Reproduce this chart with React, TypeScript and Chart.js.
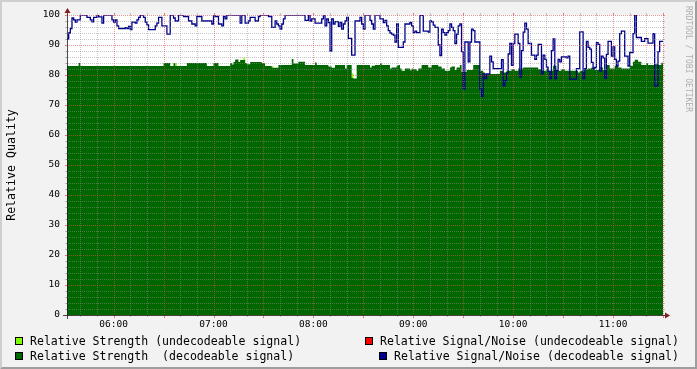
import React, { useEffect, useRef } from 'react';
import { Chart, registerables } from 'chart.js';

Chart.register(...registerables);

const W = 697;
const H = 369;
const FONT = '"DejaVu Sans Mono", monospace';

// time axis in minutes relative to 06:00
const X_START = -28;
const X_END = 330;
const HOUR_LABELS = ['06:00', '07:00', '08:00', '09:00', '10:00', '11:00'];
const Y_LABELS = ['0', '10', '20', '30', '40', '50', '60', '70', '80', '90', '100'];

// Relative Signal/Noise (decodeable) — value holds from each time onward
const SN_TIMES = [
  -28, -27, -26, -25, -24, -23, -22, -20, -16, -14, -13, -12, -10, -9, -7, -6, -1, 0, 1, 2, 3, 7, 8, 9, 10,
  11, 13, 14, 15, 16, 18, 19, 20, 21, 25, 26, 27, 29, 32, 34, 36, 37, 39, 42, 45, 47, 49, 50, 53, 59, 60,
  61, 63, 65, 66, 67, 68, 76, 77, 79, 81, 82, 85, 87, 88, 93, 95, 97, 98, 99, 100, 101, 102, 103, 115, 117,
  118, 119, 121, 125, 126, 127, 128, 129, 130, 131, 132, 133, 135, 136, 137, 138, 139, 140, 141, 143, 145,
  148, 149, 150, 151, 154, 155, 156, 157, 160, 162, 163, 164, 165, 166, 167, 168, 169, 170, 171, 174, 175,
  178, 179, 180, 181, 182, 184, 186, 189, 190, 191, 192, 193, 195, 196, 197, 198, 199, 200, 201, 202, 203,
  204, 205, 206, 207, 208, 209, 210, 211, 213, 214, 215, 216, 217, 220, 221, 222, 223, 224, 226, 227, 228,
  233, 234, 235, 236, 237, 238, 239, 240, 241, 243, 244, 245, 246, 247, 248, 249, 251, 253, 254, 255, 257,
  258, 259, 260, 261, 262, 263, 264, 265, 266, 267, 268, 269, 272, 273, 274, 278, 280, 282, 283, 284, 285,
  286, 287, 288, 289, 290, 291, 292, 293, 294, 295, 296, 297, 299, 300, 301, 302, 303, 304, 305, 307, 309,
  310, 312, 313, 314, 317, 319, 321, 324, 325, 327, 328, 330,
];
const SN_VALUES = [
  92, 94, 95.5, 99, 98.4, 97.6, 98.4, 100, 99.2, 98.4, 97.7, 99.2, 100, 99.4, 97.3, 100, 98.4, 97.6, 98.4, 96.4, 95.5, 95.8, 95.5, 96.2, 95.1,
  97.6, 97.3, 98.4, 99.2, 100, 99.2, 97.6, 96.7, 95.1, 96.4, 97.3, 99.2, 96.4, 93.6, 100, 99, 98, 100, 99.5, 98, 97, 96.4, 99.5, 98, 97, 100,
  99.5, 97, 96.4, 99.5, 98.7, 100, 97.3, 100, 97.3, 98, 99.2, 98, 99.5, 100, 99.5, 95.9, 98, 97, 96.4, 95.3, 97, 98.7, 100, 98.2, 100,
  98, 98.7, 97.3, 98.7, 100, 96.4, 98.7, 97.5, 88, 98.7, 97, 97.8, 96.2, 97.5, 95.3, 97, 98, 99.2, 92.2, 86.6, 98,
  99.2, 97, 95.3, 100, 98.2, 97, 95.3, 100, 98.7, 97.5, 98.2, 96.4, 94.8, 94, 93.6, 93.3, 91, 97, 89.2, 91, 97,
  97.5, 96.4, 94.1, 94.6, 94.1, 99.9, 94.6, 94.3, 98, 97.7, 96.6, 95.9, 90, 86.5, 95.3, 94.1, 93.3, 94.1, 94.8, 97, 95.9,
  94.8, 90.5, 93.6, 96.4, 97, 87.8, 75.3, 91, 84.4, 91, 95.3, 94.8, 91, 75.3, 72.9, 80.4, 78.8, 80.4, 86.3, 84.4, 82.1,
  85.1, 76.4, 78.1, 80.7, 87, 90.5, 83.2, 90.5, 93.6, 90.5, 79.3, 88.1, 94.3, 97.3, 95.3, 90.5, 86.6, 85.2, 86.6, 90.2, 80.4,
  86.6, 85.2, 82.6, 81.2, 78.8, 88.1, 92, 78.8, 81.5, 85.2, 84.4, 86, 85.7, 86.3, 78.6, 82.1, 94.4, 78.8, 82.1, 91.2, 89.2,
  88.6, 84.2, 82.1, 82.5, 90.8, 90.2, 81.3, 86.3, 85.7, 78.9, 86.9, 91.2, 86.3, 89.4, 85.2, 83, 84.6, 93.8, 94.6, 86.3, 83,
  87.5, 93.8, 100, 92.5, 91.2, 92.1, 90.6, 93.8, 76.4, 87.8, 91.2, 91.2,
];

// Relative Strength (decodeable)
const STRENGTH_TIMES = [
  -28, -21, -20, 30, 34, 36, 37, 44, 56, 60, 63, 70, 71, 72, 73, 75, 76, 79, 80, 82, 89, 91, 95, 99, 107,
  108, 111, 115, 121, 122, 129, 131, 133, 139, 140, 143, 144, 146, 154, 155, 157, 160, 161, 166, 167, 170,
  171, 172, 173, 175, 178, 179, 180, 182, 183, 185, 189, 191, 195, 197, 199, 202, 203, 205, 206, 208, 209,
  212, 216, 220, 222, 223, 232, 234, 236, 239, 241, 243, 246, 255, 257, 260, 261, 264, 266, 269, 271, 279,
  280, 282, 283, 285, 287, 289, 292, 294, 296, 298, 301, 303, 305, 310, 312, 313, 315, 317, 320, 321, 325,
  327, 329, 330,
];
const STRENGTH_VALUES = [
  83, 84, 83, 84, 83, 84, 83, 84, 83, 84, 83, 84, 83.5, 84.3, 85.2, 84.3, 85, 84, 83.6, 84.3, 84, 83, 82.4, 83.3, 85.3,
  83.8, 84.4, 83.3, 84.2, 83.3, 82.8, 82.4, 83.3, 82.2, 83.3, 79, 78.8, 83.3, 82.5, 83.1, 83.3, 83.9, 83.3, 82.2, 82.5, 83.1,
  83.3, 82.2, 81.4, 82.2, 81.6, 82.2, 81.9, 81.4, 82.2, 83.3, 82.5, 83.3, 82.8, 82.2, 81.4, 82.5, 82.8, 81.7, 82.5, 83.3, 81,
  81.7, 83.3, 81.4, 80.8, 80.3, 81.4, 80.8, 81.4, 81.9, 81.4, 82.2, 82.5, 81.9, 81.4, 82.2, 81.4, 83.1, 81.4, 81.9, 81.4, 80.8,
  81.4, 81, 81.9, 82.2, 82.5, 81.7, 82.5, 81.7, 83.3, 82.2, 83.1, 82.5, 82.2, 83.1, 84.4, 85.1, 84.4, 83.3, 83.9, 83.3, 83.6,
  83.3, 84.1, 84.1,
];

// Relative Strength (undecodeable) — top of the lime parts
const UNDEC_TIMES = [-28, 37, 38, 78, 79, 95, 96, 143, 144, 330];
const UNDEC_VALUES = [0, 84, 0, 85.8, 0, 82.9, 0, 80.6, 0, 0];

const LEGEND_LABELS = [
  'Relative Strength (undecodeable signal)',
  'Relative Strength  (decodeable signal)',
  'Relative Signal/Noise (undecodeable signal)',
  'Relative Signal/Noise (decodeable signal)',
];
const LEGEND_COLORS = ['#80FF00', '#006600', '#FF0000', '#00008B'];
const WATERMARK = 'RRDTOOL / TOBI OETIKER';
const Y_TITLE = 'Relative Quality';

const toPoints = (ts: number[], vs: number[]) => ts.map((t, i) => ({ x: t, y: vs[i] }));

const rrdPlugin = {
  id: 'rrdLook',
  beforeDraw(chart: any) {
    const { ctx, chartArea: a } = chart;
    ctx.save();
    ctx.fillStyle = '#F2F2F2';
    ctx.fillRect(0, 0, W, H);
    ctx.fillStyle = '#FFFFFF';
    ctx.fillRect(a.left, a.top, a.right - a.left, a.bottom - a.top);
    ctx.restore();
  },
  afterDatasetsDraw(chart: any) {
    const { ctx, chartArea: a, scales } = chart;
    const xs = scales.x;
    const ys = scales.y;
    const X0 = Math.round(a.left);
    const X1 = Math.round(a.right);
    const Y0 = Math.round(a.bottom);
    const Y1 = Math.round(a.top);
    const minorC = 'rgba(143,143,143,0.5)';
    const majorC = 'rgba(222,79,79,0.6)';
    ctx.save();
    ctx.lineWidth = 1;
    const line = (x1: number, y1: number, x2: number, y2: number, c: string, dash: number[]) => {
      ctx.setLineDash(dash);
      ctx.strokeStyle = c;
      ctx.beginPath();
      ctx.moveTo(x1, y1);
      ctx.lineTo(x2, y2);
      ctx.stroke();
    };
    for (const pass of [false, true]) {
      for (const t of ys.ticks) {
        const v = Math.round(t.value);
        const isMajor = v % 10 === 0;
        if (isMajor !== pass) continue;
        const y = Math.round(ys.getPixelForValue(v)) + 0.5;
        const c = isMajor ? majorC : minorC;
        line(X0 - 2, y, X0, y, c, []);
        line(X1, y, X1 + 2, y, c, []);
        if (isMajor) line(X0 - 2, y, X1 + 2, y, c, [1, 1]);
        else line(X0 - 1, y, X1 + 1, y, c, [1, 1]);
      }
      for (const t of xs.ticks) {
        const v = Math.round(t.value);
        if (v < X_START || v > X_END) continue;
        const isMajor = v % 30 === 0;
        if (isMajor !== pass) continue;
        const x = Math.round(xs.getPixelForValue(v)) + 0.5;
        const c = isMajor ? majorC : minorC;
        line(x, Y1 - 2, x, Y1, c, []);
        if (isMajor) {
          line(x, Y0, x, Y0 + 3, c, []);
          line(x, Y0 + 3, x, Y1 - 2, c, [1, 1]);
        } else {
          line(x, Y0, x, Y0 + 2, c, []);
          line(x, Y0 + 1, x, Y1 - 1, c, [1, 1]);
        }
      }
    }
    // axes
    const axisC = 'rgba(31,31,31,0.8)';
    line(X0 - 4, Y0 + 0.5, X1 + 4, Y0 + 0.5, axisC, []);
    line(X0 + 0.5, Y0 + 4, X0 + 0.5, Y1 - 4, axisC, []);
    ctx.setLineDash([]);
    ctx.fillStyle = '#801F1F';
    ctx.beginPath();
    ctx.moveTo(X1 + 2, Y0 - 2.5);
    ctx.lineTo(X1 + 2, Y0 + 3.5);
    ctx.lineTo(X1 + 7, Y0 + 0.5);
    ctx.closePath();
    ctx.fill();
    ctx.beginPath();
    ctx.moveTo(X0 - 2.5, Y1 - 2);
    ctx.lineTo(X0 + 3.5, Y1 - 2);
    ctx.lineTo(X0 + 0.5, Y1 - 7);
    ctx.closePath();
    ctx.fill();
    ctx.restore();
  },
  afterDraw(chart: any) {
    const { ctx } = chart;
    ctx.save();
    // legend
    ctx.font = `11.55px ${FONT}`;
    ctx.textBaseline = 'alphabetic';
    ctx.textAlign = 'left';
    ctx.fillStyle = '#000';
    const items = [
      { box: [15, 337], text: [30, 345] },
      { box: [15, 352], text: [30, 360] },
      { box: [365, 337], text: [380, 345] },
      { box: [379, 352], text: [394, 360] },
    ];
    items.forEach((it, i) => {
      ctx.fillStyle = LEGEND_COLORS[i];
      ctx.fillRect(it.box[0], it.box[1], 8, 8);
      ctx.strokeStyle = '#000';
      ctx.lineWidth = 1;
      ctx.strokeRect(it.box[0] + 0.5, it.box[1] + 0.5, 7, 7);
      ctx.fillStyle = '#000';
      ctx.fillText(LEGEND_LABELS[i], it.text[0], it.text[1]);
    });
    // watermark
    ctx.save();
    ctx.translate(688, 59);
    ctx.rotate(Math.PI / 2);
    ctx.font = `8px ${FONT}`;
    ctx.fillStyle = 'rgba(0,0,0,0.3)';
    ctx.textAlign = 'center';
    ctx.textBaseline = 'middle';
    ctx.fillText(WATERMARK, 0, 0);
    ctx.restore();
    // 3d frame
    ctx.fillStyle = '#CFCFCF';
    ctx.beginPath();
    ctx.moveTo(0, H); ctx.lineTo(2, H - 2); ctx.lineTo(2, 2); ctx.lineTo(W - 2, 2); ctx.lineTo(W, 0); ctx.lineTo(0, 0);
    ctx.closePath();
    ctx.fill();
    ctx.fillStyle = '#9E9E9E';
    ctx.beginPath();
    ctx.moveTo(2, H - 2); ctx.lineTo(W - 2, H - 2); ctx.lineTo(W - 2, 2); ctx.lineTo(W, 0); ctx.lineTo(W, H); ctx.lineTo(0, H);
    ctx.closePath();
    ctx.fill();
    ctx.restore();
  },
};

export default function App() {
  const ref = useRef<HTMLCanvasElement | null>(null);
  useEffect(() => {
    if (!ref.current) return;
    const chart = new Chart(ref.current, {
      type: 'line',
      data: {
        datasets: [
          {
            label: LEGEND_LABELS[3],
            data: toPoints(SN_TIMES, SN_VALUES),
            stepped: 'before',
            borderColor: LEGEND_COLORS[3],
            borderWidth: 1.3,
            pointRadius: 0,
            fill: false,
          },
          {
            label: LEGEND_LABELS[1],
            data: toPoints(STRENGTH_TIMES, STRENGTH_VALUES),
            stepped: 'before',
            borderColor: 'rgba(0,0,0,0)',
            borderWidth: 0,
            backgroundColor: LEGEND_COLORS[1],
            fill: 'origin',
            pointRadius: 0,
          },
          {
            label: LEGEND_LABELS[0],
            data: toPoints(UNDEC_TIMES, UNDEC_VALUES),
            stepped: 'before',
            borderColor: 'rgba(0,0,0,0)',
            borderWidth: 0,
            backgroundColor: LEGEND_COLORS[0],
            fill: 'origin',
            pointRadius: 0,
          },
        ],
      } as any,
      options: {
        animation: false,
        responsive: false,
        events: [],
        layout: { padding: { left: 0, right: 34, top: 15, bottom: 0 } },
        plugins: { legend: { display: false }, tooltip: { enabled: false } },
        scales: {
          x: {
            type: 'linear',
            min: X_START,
            max: X_END,
            grid: { display: false, drawTicks: false },
            border: { display: false },
            ticks: {
              stepSize: 10,
              autoSkip: false,
              maxRotation: 0,
              minRotation: 0,
              includeBounds: false,
              maxTicksLimit: 1000,
              padding: 4,
              color: '#000',
              font: { family: FONT, size: 9.5 },
              callback: (v: any) => {
                const n = Math.round(Number(v));
                return n % 60 === 0 && HOUR_LABELS[n / 60] ? HOUR_LABELS[n / 60] : '';
              },
            },
            afterFit: (s: any) => { s.height = 54; },
          },
          y: {
            min: 0,
            max: 100,
            grid: { display: false, drawTicks: false },
            border: { display: false },
            ticks: {
              stepSize: 2,
              autoSkip: false,
              maxTicksLimit: 1000,
              padding: 7,
              color: '#000',
              font: { family: FONT, size: 9.5 },
              callback: (v: any) => {
                const n = Math.round(Number(v));
                return n % 10 === 0 ? Y_LABELS[n / 10] : '';
              },
            },
            title: {
              display: true,
              text: Y_TITLE,
              color: '#000',
              font: { family: FONT, size: 11.6 },
              padding: { top: 5, bottom: 0 },
            },
            afterFit: (s: any) => { s.width = 67; },
          },
        },
      } as any,
      plugins: [rrdPlugin],
    });
    return () => chart.destroy();
  }, []);
  return (
    <div style={{ position: 'absolute', left: 0, top: 0, width: W, height: H }}>
      <canvas ref={ref} width={W} height={H} style={{ display: 'block' }} />
    </div>
  );
}
